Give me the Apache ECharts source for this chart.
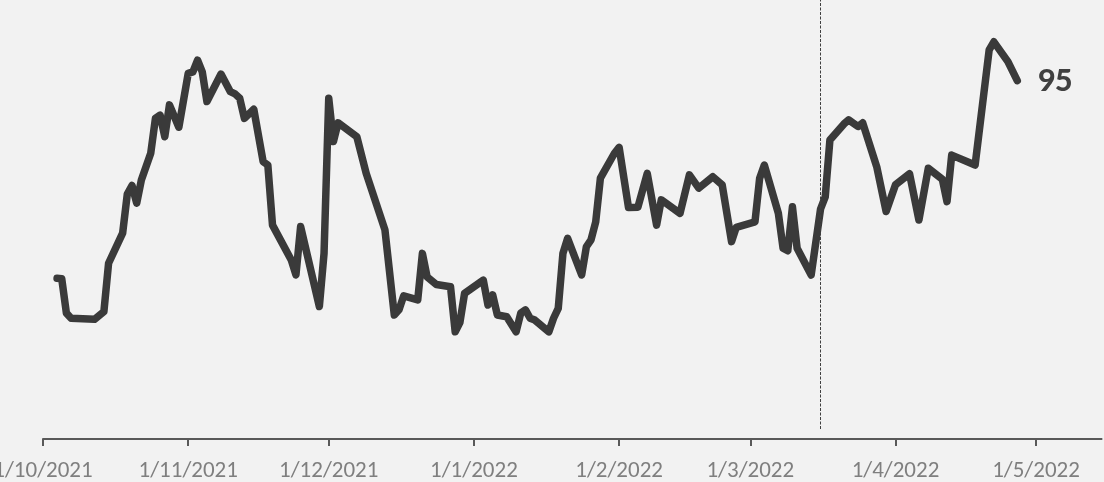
<!DOCTYPE html>
<html>
<head>
<meta charset="utf-8">
<script src="https://cdn.jsdelivr.net/npm/echarts@6/dist/echarts.min.js"></script>
<style>
  html, body { margin: 0; padding: 0; background: #f2f2f2; }
  #chart { width: 1104px; height: 482px; }
</style>
</head>
<body>
<div id="chart"></div>
<script>
// Calendar span of the horizontal axis (one category per day)
const axisStart = '2021-10-01';
const axisEnd = '2022-05-15';

// Observation dates and index readings
const obsDates = [
  '2021-10-04','2021-10-05','2021-10-06','2021-10-07','2021-10-12','2021-10-14','2021-10-15',
  '2021-10-18','2021-10-19','2021-10-20','2021-10-21','2021-10-22','2021-10-24','2021-10-25',
  '2021-10-26','2021-10-27','2021-10-28','2021-10-30','2021-11-01','2021-11-02','2021-11-03',
  '2021-11-04','2021-11-05','2021-11-08','2021-11-10','2021-11-11','2021-11-12','2021-11-13',
  '2021-11-15','2021-11-17','2021-11-18','2021-11-19','2021-11-23','2021-11-24','2021-11-25',
  '2021-11-29','2021-11-30','2021-12-01','2021-12-02','2021-12-03','2021-12-07','2021-12-09',
  '2021-12-13','2021-12-15','2021-12-16','2021-12-17','2021-12-20','2021-12-21','2021-12-22',
  '2021-12-24','2021-12-27','2021-12-28','2021-12-29','2021-12-30','2022-01-03','2022-01-04',
  '2022-01-05','2022-01-06','2022-01-08','2022-01-10','2022-01-11','2022-01-12','2022-01-13',
  '2022-01-14','2022-01-17','2022-01-18','2022-01-19','2022-01-20','2022-01-21','2022-01-24',
  '2022-01-25','2022-01-26','2022-01-27','2022-01-28','2022-01-31','2022-02-01','2022-02-03',
  '2022-02-05','2022-02-07','2022-02-09','2022-02-10','2022-02-14','2022-02-16','2022-02-18',
  '2022-02-21','2022-02-23','2022-02-25','2022-02-26','2022-03-02','2022-03-03','2022-03-04',
  '2022-03-07','2022-03-08','2022-03-09','2022-03-10','2022-03-11','2022-03-14','2022-03-16',
  '2022-03-17','2022-03-18','2022-03-21','2022-03-22','2022-03-24','2022-03-25','2022-03-28',
  '2022-03-30','2022-04-01','2022-04-04','2022-04-06','2022-04-08','2022-04-11','2022-04-12',
  '2022-04-13','2022-04-18','2022-04-21','2022-04-22','2022-04-25','2022-04-27'
];
const obsValues = [
  41.1, 41.0, 31.6, 30.2, 29.9, 32.0, 45.2,
  53.4, 64.1, 66.4, 61.6, 67.9, 75.2, 84.7,
  85.6, 79.7, 88.4, 82.3, 97.0, 97.4, 100.6,
  97.4, 89.3, 96.8, 92.0, 91.4, 90.2, 84.7,
  87.2, 72.9, 72.0, 55.6, 46.1, 42.0, 55.2,
  33.4, 47.9, 90.2, 78.4, 83.5, 79.7, 69.7,
  54.3, 31.1, 32.5, 36.3, 35.2, 47.9, 41.5,
  39.4, 38.8, 26.5, 29.0, 37.0, 40.6, 33.8,
  36.6, 31.1, 30.6, 26.5, 31.6, 32.5, 30.2,
  29.7, 26.5, 30.2, 32.9, 47.9, 52.0, 42.0,
  49.7, 51.6, 56.5, 68.4, 75.2, 76.8, 60.4,
  60.5, 69.7, 55.6, 62.5, 58.8, 69.3, 65.7,
  68.8, 66.6, 51.1, 55.0, 56.5, 68.4, 72.0,
  58.8, 49.3, 48.6, 60.6, 49.3, 42.0, 60.0,
  63.3, 78.8, 83.2, 84.3, 82.5, 83.5, 71.5,
  59.3, 66.6, 69.6, 57.0, 71.1, 68.1, 62.0,
  74.7, 72.0, 103.4, 105.6, 100.2, 95
];

// Reference event marked with a dashed vertical rule
const eventDate = '2022-03-16';

function pad(n) { return n < 10 ? '0' + n : '' + n; }
function isoDay(d) { return d.getUTCFullYear() + '-' + pad(d.getUTCMonth() + 1) + '-' + pad(d.getUTCDate()); }

// One category per calendar day
const days = [];
for (let t = Date.parse(axisStart + 'T00:00:00Z'); t <= Date.parse(axisEnd + 'T00:00:00Z'); t += 86400000) {
  days.push(isoDay(new Date(t)));
}
const isMonthStart = (idx, val) => val.slice(8) === '01';
const fmtDay = (val) => {
  const [y, m, d] = val.split('-');
  return (+d) + '/' + (+m) + '/' + y;
};

const seriesData = obsDates.map((d, i) => [d, obsValues[i]]);
const pxPerDay = 4.684;

const chart = echarts.init(document.getElementById('chart'), null, { renderer: 'canvas' });
chart.setOption({
  backgroundColor: '#f2f2f2',
  animation: false,
  grid: {
    left: 43, width: (days.length - 1) * pxPerDay, top: 0, bottom: 53,
    containLabel: false, outerBoundsMode: 'none'
  },
  xAxis: {
    type: 'category',
    data: days,
    boundaryGap: false,
    offset: 10,
    axisLine: { show: true, onZero: false, lineStyle: { color: '#595959', width: 2 } },
    axisTick: { show: true, interval: isMonthStart, length: 7, lineStyle: { color: '#595959', width: 2 } },
    axisLabel: {
      interval: isMonthStart,
      formatter: fmtDay,
      color: '#7f7f7f',
      fontFamily: 'Carlito, Lato, sans-serif',
      fontSize: 23,
      margin: 21,
      hideOverlap: false
    },
    splitLine: { show: false }
  },
  yAxis: {
    type: 'value',
    min: 0,
    max: 117,
    show: false,
    splitLine: { show: false }
  },
  series: [{
    type: 'line',
    data: seriesData,
    showSymbol: false,
    symbol: 'none',
    lineStyle: { color: '#3a3a3a', width: 7.5, cap: 'round', join: 'round' },
    endLabel: {
      show: true,
      formatter: (p) => String(p.value[1]),
      distance: 20,
      offset: [0, 2],
      color: '#404040',
      fontFamily: 'Carlito, Lato, sans-serif',
      fontWeight: 'bold',
      fontSize: 35
    },
    markLine: {
      silent: true,
      symbol: 'none',
      label: { show: false },
      lineStyle: { color: '#404040', width: 1, type: [3, 1.5] },
      data: [{ xAxis: eventDate }]
    }
  }]
});
</script>
</body>
</html>
